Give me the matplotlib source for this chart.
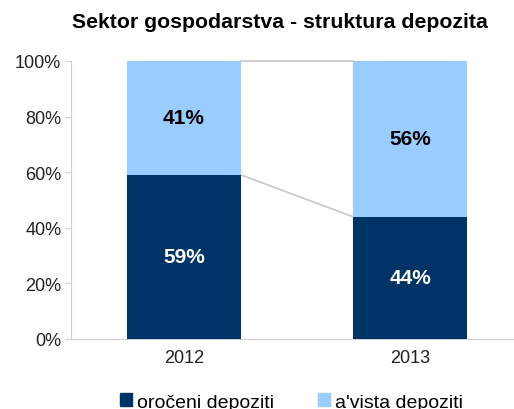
import matplotlib
matplotlib.use("Agg")
import matplotlib.pyplot as plt
from matplotlib.patches import Patch

plt.rcParams['font.family'] = ['Liberation Sans', 'DejaVu Sans']

categories = ['2012', '2013']
oroceni = [59, 44]
avista = [41, 56]
series_names = ['oročeni depoziti', "a'vista depoziti"]

dark = '#003366'
light = '#99CCFF'

fig = plt.figure(figsize=(5.14, 4.10), dpi=100)
ax = fig.add_axes([71/514, 1-340/410, (514-71)/514, (340-62)/410])

x = list(range(len(categories)))
w = 0.505
ax.bar(x, oroceni, width=w, color=dark, zorder=3)
ax.bar(x, avista, width=w, bottom=oroceni, color=light, zorder=3)

# series lines
tops1 = oroceni
tops2 = [o + a for o, a in zip(oroceni, avista)]
ax.plot([x[0] + w/2, x[1] - w/2], [tops1[0], tops1[1]], color='#c8c8c8', lw=1.2, zorder=2)
ax.plot([x[0] + w/2, x[1] - w/2], [tops2[0], tops2[1]], color='#c8c8c8', lw=1.2, zorder=2,
        clip_on=False)

for i in x:
    ax.text(i, oroceni[i]/2, f'{oroceni[i]}%', ha='center', va='center',
            color='white', fontsize=15, fontweight='bold', zorder=4)
    ax.text(i, oroceni[i] + avista[i]/2, f'{avista[i]}%', ha='center', va='center',
            color='black', fontsize=15, fontweight='bold', zorder=4)

ax.set_xlim(-0.5, 1.46)
ax.set_ylim(0, 100)
ax.set_yticks([0, 20, 40, 60, 80, 100])
ax.set_yticklabels([f'{v}%' for v in [0, 20, 40, 60, 80, 100]], fontsize=13, color='#222222')
ax.set_xticks(x)
ax.set_xticklabels(categories, fontsize=13, color='#222222')
for s in ['top', 'right']:
    ax.spines[s].set_visible(False)
ax.spines['left'].set_color('#d0d0d0')
ax.spines['bottom'].set_color('#d0d0d0')
ax.tick_params(axis='y', length=4, color='#d0d0d0', pad=3)
ax.tick_params(axis='x', length=0, pad=7)

fig.text(0.5 + 23/514, 1 - 22/410, 'Sektor gospodarstva - struktura depozita',
         ha='center', va='center', fontsize=15.3, fontweight='bold')

handles = [Patch(color=dark), Patch(color=light)]
fig.legend(handles, series_names, loc='center', bbox_to_anchor=(0.567, 1 - 403/410),
           ncol=2, frameon=False, fontsize=14, handlelength=0.6, handleheight=0.6,
           handletextpad=0.25, columnspacing=2.3)

fig.savefig('out.png', dpi=100)
